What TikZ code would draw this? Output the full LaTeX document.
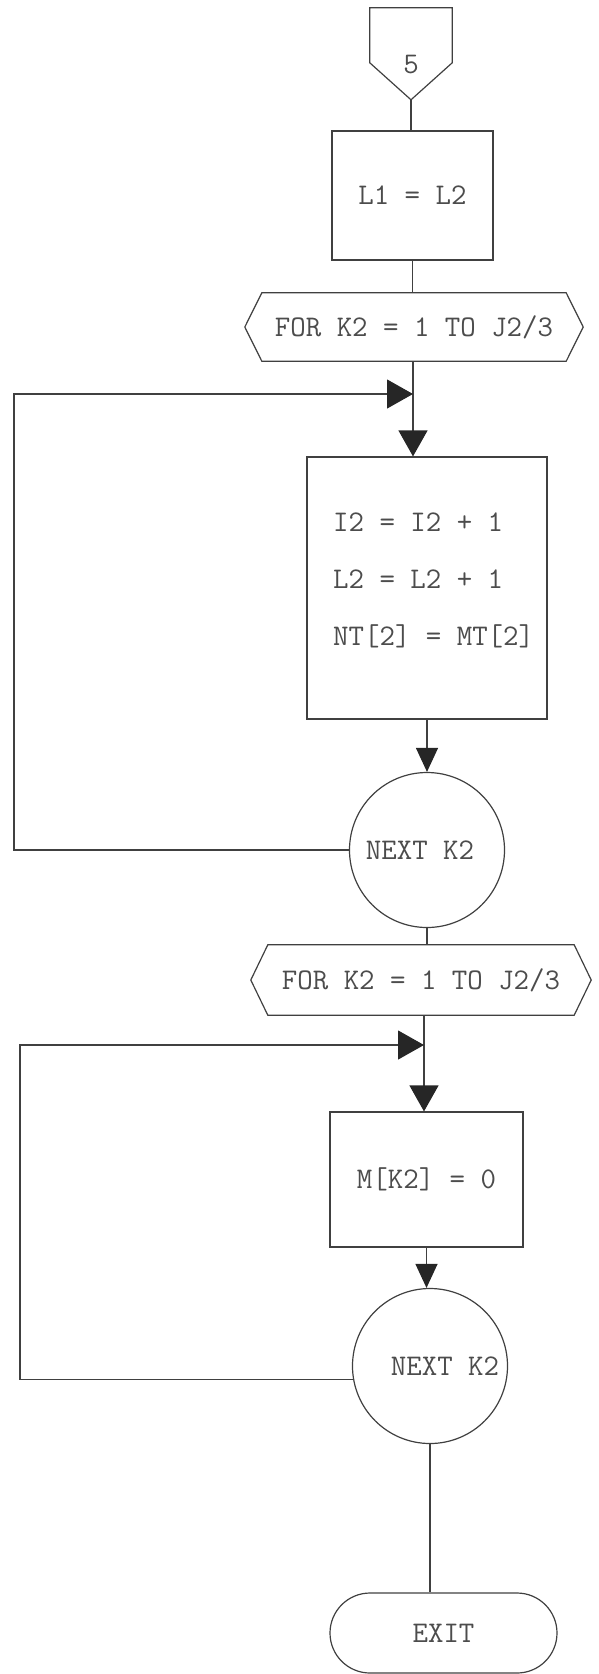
\documentclass[tikz,border=0pt]{standalone}
\usetikzlibrary{arrows.meta,calc}
\begin{document}
\begin{tikzpicture}[x=1pt,y=-1pt,
  every node/.style={font=\fontsize{30}{36}\selectfont\ttfamily, text=black!70},
  ln/.style={draw=black!75, line width=1.2pt},
  procbox/.style={ln, rectangle, inner sep=0pt},
  nextk/.style={ln, circle, minimum size=155pt, inner sep=0pt},
  bigtip/.style={-{Triangle[length=26pt,width=29pt,color=black!85]}},
  smalltip/.style={-{Triangle[length=24pt,width=22pt,color=black!85]}}]
\useasboundingbox (0,0) rectangle (599,1674);

% off-page connector
\node (off) at (411,65) [minimum width=82pt, minimum height=114pt, inner sep=0pt] {5};
\draw[ln] (off.north west) -- (off.north east) -- ($(off.north east)+(0,55)$)
  -- ($(off.north)+(0,92)$) -- ($(off.north west)+(0,55)$) -- cycle;
\coordinate (offtip) at ($(off.north)+(0,92)$);

% first loop
\node[procbox, minimum width=161pt, minimum height=129pt] (box1) at (412.5,195.5) {L1 = L2};
\node[minimum width=304pt, minimum height=68pt] (hex1) at (414,327) {FOR K2 = 1 TO J2/3};
\node[procbox, minimum width=240pt, minimum height=262pt] (box2) at (427,588) {};
\node[anchor=west, align=left, inner sep=0pt, font=\fontsize{30}{57}\selectfont\ttfamily]
  (box2txt) at (333,580) {I2 = I2 + 1\\L2 = L2 + 1\\NT[2] = MT[2]};
\node[nextk] (circ1) at (427,850) {NEXT K2\hspace*{14pt}};

% second loop
\node[minimum width=306pt, minimum height=70pt] (hex2) at (421,980) {FOR K2 = 1 TO J2/3};
\node[procbox, minimum width=193pt, minimum height=135pt] (box3) at (426.5,1179.5) {M[K2] = 0};
\node[nextk] (circ2) at (430,1366) {\hspace*{30pt}NEXT K2};
\node[ln, rounded corners=40pt, minimum width=227pt, minimum height=80pt] (exitn) at (443.5,1633) {EXIT};

\foreach \h in {hex1,hex2}
  \draw[ln] (\h.north west) -- (\h.north east) -- ($(\h.east)+(17,0)$)
    -- (\h.south east) -- (\h.south west) -- ($(\h.west)+(-17,0)$) -- cycle;

\coordinate (j1) at (413,394);
\coordinate (j2) at (424,1045);
\coordinate (l1) at (14,394);
\coordinate (l2) at (20,1045);

\draw[ln] (offtip) -- (offtip |- box1.north);
\draw[ln] (box1.south) -- (box1.south |- hex1.north);
\draw[ln,bigtip] (hex1.south -| j1) -- (j1 |- box2.north);
\draw[ln,bigtip] (circ1.west) -| (l1) -- (j1);
\draw[ln,smalltip] (box2.south) -- (box2.south |- circ1.north);
\draw[ln] (circ1.south) -- (circ1.south |- hex2.north);
\draw[ln,bigtip] (hex2.south -| j2) -- (j2 |- box3.north);
\draw[ln,bigtip] (circ2.190) -| (l2) -- (j2);
\draw[ln,smalltip] (box3.south) -- (box3.south |- circ2.north);
\draw[ln] (circ2.south) -- (circ2.south |- exitn.north);
\end{tikzpicture}
\end{document}
